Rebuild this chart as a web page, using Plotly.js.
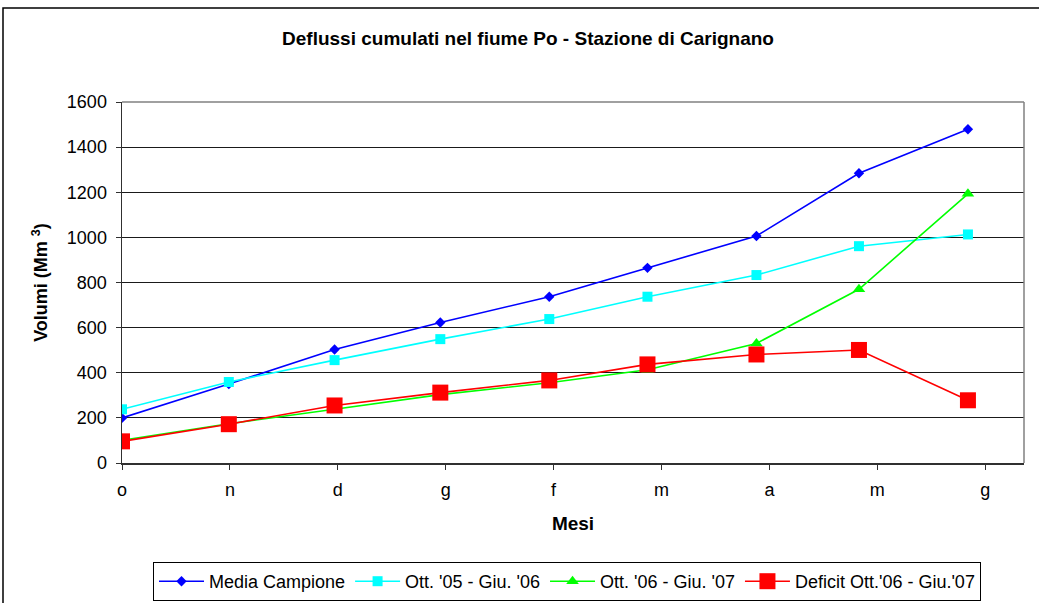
<!DOCTYPE html>
<html>
<head>
<meta charset="utf-8">
<script src="https://cdn.plot.ly/plotly-3.0.1.min.js"></script>
<style>
  html, body { margin: 0; padding: 0; background: #fff; }
  #grafico { width: 1039px; height: 603px; }
</style>
</head>
<body>
<div id="grafico"></div>
<script>
// Mesi dell'anno idrologico (ottobre - giugno)
const mesi = ['o', 'n', 'd', 'g', 'f', 'm', 'a', 'm', 'g'];
const posizioniMesi = [0, 1, 2, 3, 4, 5, 6, 7, 8];

// Posizione di ciascuna rilevazione lungo l'asse dei mesi
const rilevazioni = [0, 0.99, 1.97, 2.95, 3.96, 4.87, 5.88, 6.83, 7.84];

// Volumi cumulati (Mm³)
const mediaCampione = [200, 350, 503, 623, 737, 865, 1006, 1284, 1479];
const ott05Giu06 = [238, 359, 456, 549, 638, 737, 833, 961, 1013];
const ott06Giu07 = [101, 174, 238, 303, 356, 413, 530, 770, 1193];
const deficit = [96, 172, 255, 312, 366, 437, 481, 501, 278];

// Area del grafico in pixel
const L = 122, R = 1024, T = 102, B = 463;
const pw = R - L, ph = B - T;
const px = v => (v - L) / pw;
const py = v => (B - v) / ph;

const FONT = 'Liberation Sans, Arial, sans-serif';

const traces = [
  {
    name: 'Media Campione', x: rilevazioni, y: mediaCampione,
    mode: 'lines+markers',
    line: { color: '#0000ff', width: 1.6 },
    marker: { symbol: 'diamond', size: 8, color: '#0000ff' }
  },
  {
    name: "Ott. '05 - Giu. '06", x: rilevazioni, y: ott05Giu06,
    mode: 'lines+markers',
    line: { color: '#00ffff', width: 1.6 },
    marker: { symbol: 'square', size: 10, color: '#00ffff' }
  },
  {
    name: "Ott. '06 - Giu. '07", x: rilevazioni, y: ott06Giu07,
    mode: 'lines+markers',
    line: { color: '#00ff00', width: 1.6 },
    marker: { symbol: 'triangle-up', size: 11, color: '#00ff00' }
  },
  {
    name: "Deficit Ott.'06 - Giu.'07", x: rilevazioni, y: deficit,
    mode: 'lines+markers',
    line: { color: '#ff0000', width: 1.6 },
    marker: { symbol: 'square', size: 16, color: '#ff0000' }
  }
];

const layout = {
  width: 1039, height: 603,
  paper_bgcolor: '#ffffff', plot_bgcolor: '#ffffff',
  margin: { l: L, r: 1039 - R, t: T, b: 603 - B, pad: 0, autoexpand: false },
  font: { family: FONT, color: '#000000', size: 18 },
  title: {
    text: '<b>Deflussi cumulati nel fiume Po - Stazione di Carignano</b>',
    font: { family: FONT, size: 19, color: '#000000' },
    xref: 'container', yref: 'container',
    x: 528 / 1039, y: 1 - 38 / 603, xanchor: 'center', yanchor: 'middle'
  },
  xaxis: {
    range: [0, pw / 107.9],
    tickmode: 'array', tickvals: posizioniMesi, ticktext: mesi,
    ticks: 'outside', ticklen: 5, tickwidth: 1, tickcolor: '#303030',
    showline: true, linecolor: '#303030', linewidth: 1.5,
    showgrid: false, zeroline: false,
    automargin: false,
    ticklabelstandoff: 5,
    tickfont: { family: FONT, size: 18, color: '#000000' },
    title: { text: '<b>Mesi</b>', font: { family: FONT, size: 19, color: '#000000' }, standoff: 17 },
    fixedrange: true
  },
  yaxis: {
    range: [0, 1600], dtick: 200, tick0: 0,
    ticks: 'outside', ticklen: 5, tickwidth: 1, tickcolor: '#303030',
    showline: true, linecolor: '#303030', linewidth: 1.5,
    showgrid: true, gridcolor: '#1a1a1a', gridwidth: 1,
    zeroline: false,
    automargin: false,
    ticklabelstandoff: 5,
    tickfont: { family: FONT, size: 18, color: '#000000' },
    title: { text: '<b>Volumi (Mm <sup>3</sup>)</b>', font: { family: FONT, size: 18, color: '#000000' }, standoff: 14 },
    fixedrange: true
  },
  legend: {
    orientation: 'h',
    x: px(153), y: py(562), xanchor: 'left', yanchor: 'top',
    bordercolor: '#000000', borderwidth: 1, bgcolor: '#ffffff',
    font: { family: FONT, size: 18, color: '#000000' },
    itemwidth: 45,
    itemclick: false, itemdoubleclick: false
  },
  showlegend: true,
  shapes: [
    // bordo superiore e destro dell'area del grafico
    { type: 'line', xref: 'paper', yref: 'paper', x0: 0, x1: 1, y0: 1, y1: 1,
      line: { color: '#808080', width: 1.5 }, layer: 'above' },
    { type: 'line', xref: 'paper', yref: 'paper', x0: 1, x1: 1, y0: 0, y1: 1,
      line: { color: '#808080', width: 1.5 }, layer: 'above' },
    // cornice esterna del grafico
    { type: 'rect', xref: 'paper', yref: 'paper',
      x0: px(3), x1: px(1050), y0: py(620), y1: py(8),
      line: { color: '#000000', width: 1.5 }, layer: 'below' }
  ]
};

Plotly.newPlot('grafico', traces, layout, { displayModeBar: false, staticPlot: true });
</script>
</body>
</html>
